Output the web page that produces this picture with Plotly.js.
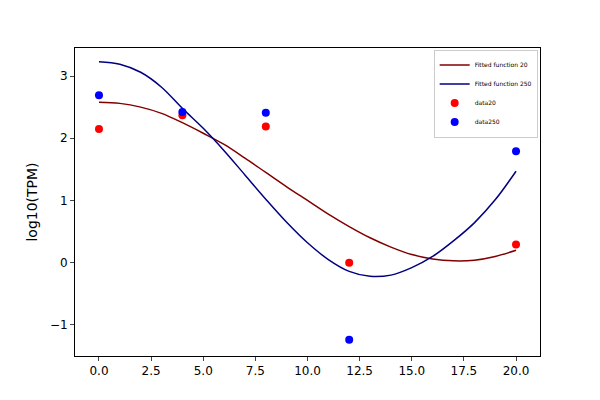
<!DOCTYPE html>
<html><head><script src="https://cdn.plot.ly/plotly-3.0.1.min.js"></script></head>
<body style="margin:0"><div id="chart" style="width:600px;height:400px"></div>
<script>
// Measured points
const xData = [0, 4, 8, 12, 20];
const y20 = [2.15, 2.37, 2.19, 0.0, 0.29];
const y250 = [2.69, 2.42, 2.41, -1.24, 1.79];

// Fitted curves
const xFit = [0,1,2,3,4,5,6,7,8,9,10,11,12,13,14,15,16,17,18,19,20];
const fit20 = [2.58,2.56,2.5,2.4,2.25,2.08,1.9,1.68,1.45,1.22,1.0,0.78,0.58,0.4,0.25,0.13,0.06,0.03,0.04,0.1,0.2];
const fit250 = [3.23,3.19,3.06,2.82,2.48,2.16,1.8,1.41,1.02,0.65,0.32,0.05,-0.14,-0.22,-0.2,-0.08,0.1,0.35,0.64,1.01,1.47];

const data = [
  {x: xFit, y: fit20, mode: "lines", line: {color: "#800000", width: 1.5, shape: "spline", smoothing: 1}, name: "Fitted function 20"},
  {x: xFit, y: fit250, mode: "lines", line: {color: "#000080", width: 1.5, shape: "spline", smoothing: 1}, name: "Fitted function 250"},
  {x: xData, y: y20, mode: "markers", marker: {color: "red", size: 8}, name: "data20"},
  {x: xData, y: y250, mode: "markers", marker: {color: "blue", size: 8}, name: "data250"}
];

const layout = {
  width: 600, height: 400,
  margin: {l: 75, r: 60, t: 48, b: 44},
  paper_bgcolor: "white", plot_bgcolor: "white",
  font: {family: "DejaVu Sans", size: 12, color: "black"},
  showlegend: true,
  legend: {x: 0.995, y: 0.995, xanchor: "right", yanchor: "top", font: {size: 6},
           tracegroupgap: 0, itemwidth: 30,
           bordercolor: "#ccc", borderwidth: 1, bgcolor: "white"},
  xaxis: {range: [-1.15, 21.15], tickvals: [0,2.5,5,7.5,10,12.5,15,17.5,20],
          ticktext: ["0.0","2.5","5.0","7.5","10.0","12.5","15.0","17.5","20.0"],
          showgrid: false, zeroline: false, showline: true, mirror: true, linecolor: "black",
          ticks: "outside", ticklen: 4},
  yaxis: {range: [-1.5, 3.45], tickvals: [-1,0,1,2,3], ticktext: ["\u22121","0","1","2","3"],
          title: {text: "log10(TPM)"},
          showgrid: false, zeroline: false, showline: true, mirror: true, linecolor: "black",
          ticks: "outside", ticklen: 4}
};

Plotly.newPlot("chart", data, layout, {displayModeBar: false});
</script></body></html>
